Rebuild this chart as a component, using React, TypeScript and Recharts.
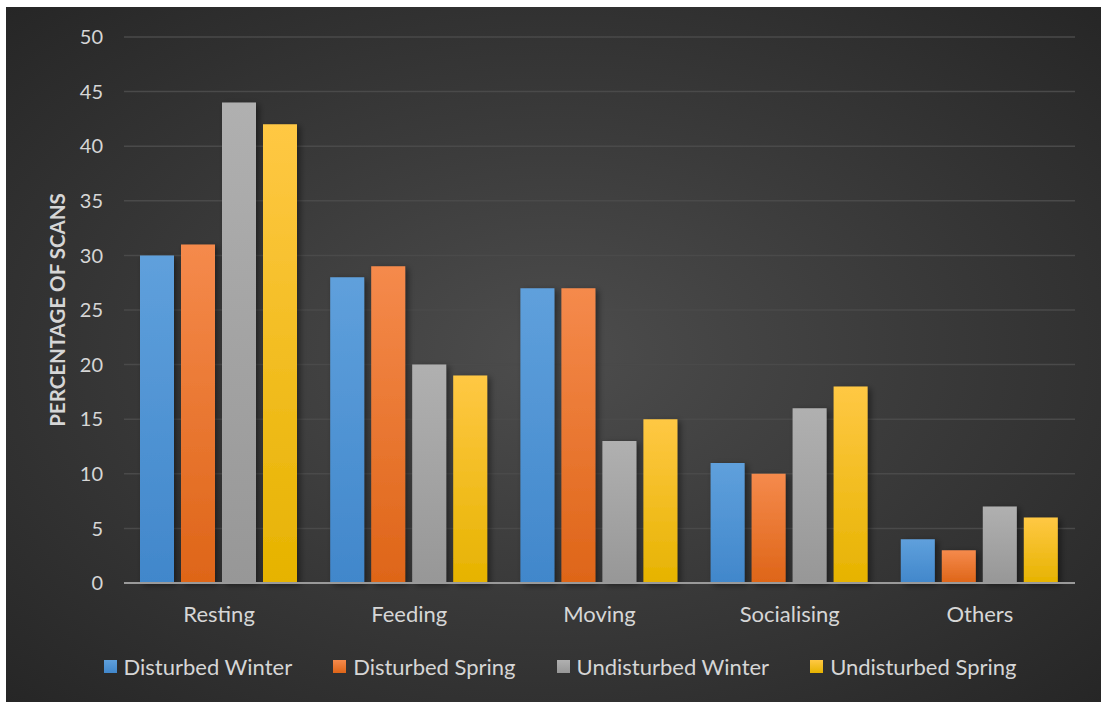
import {
  Bar,
  BarChart,
  CartesianGrid,
  Legend,
  XAxis,
  YAxis,
} from 'recharts'

const categories = ['Resting', 'Feeding', 'Moving', 'Socialising', 'Others']
const disturbedWinter = [30, 28, 27, 11, 4]
const disturbedSpring = [31, 29, 27, 10, 3]
const undisturbedWinter = [44, 20, 13, 16, 7]
const undisturbedSpring = [42, 19, 15, 18, 6]
const yTicks = [0, 5, 10, 15, 20, 25, 30, 35, 40, 45, 50]

const seriesList = [
  { key: 'dw', name: 'Disturbed Winter', top: '#5fa0dc', bottom: '#4187cb' },
  { key: 'ds', name: 'Disturbed Spring', top: '#f58a4c', bottom: '#de6518' },
  { key: 'uw', name: 'Undisturbed Winter', top: '#b0b0b0', bottom: '#979797' },
  { key: 'us', name: 'Undisturbed Spring', top: '#ffc844', bottom: '#e6b300' },
]

const data = categories.map((name, i) => ({
  name,
  dw: disturbedWinter[i],
  ds: disturbedSpring[i],
  uw: undisturbedWinter[i],
  us: undisturbedSpring[i],
}))

const FONT = 'Lato, "Open Sans", sans-serif'
const TEXT = '#d6d6d6'

function LegendRow() {
  return (
    <div
      style={{
        display: 'flex',
        justifyContent: 'center',
        gap: 41,
        paddingLeft: 13,
        fontFamily: FONT,
        fontSize: 22,
        color: TEXT,
      }}
    >
      {seriesList.map((s) => (
        <div key={s.key} style={{ display: 'flex', alignItems: 'center' }}>
          <span
            style={{
              width: 13,
              height: 13,
              marginRight: 7,
              background: `linear-gradient(${s.top}, ${s.bottom})`,
            }}
          />
          <span>{s.name}</span>
        </div>
      ))}
    </div>
  )
}

export default function App() {
  return (
    <div
      style={{
        position: 'absolute',
        left: 6,
        top: 7,
        width: 1095,
        height: 695,
        background:
          'radial-gradient(ellipse at 50% 50%, #4d4d4d 0%, #3b3b3b 45%, #262626 100%)',
      }}
    >
      <BarChart
        width={1095}
        height={695}
        data={data}
        margin={{ top: 30, right: 26, left: 0, bottom: 69 }}
        barCategoryGap={16}
        barGap={7}
      >
        <defs>
          {seriesList.map((s) => (
            <linearGradient key={s.key} id={`grad-${s.key}`} x1="0" y1="0" x2="0" y2="1">
              <stop offset="0%" stopColor={s.top} />
              <stop offset="100%" stopColor={s.bottom} />
            </linearGradient>
          ))}
          <filter id="barShadow" x="-20%" y="-10%" width="160%" height="130%">
            <feDropShadow dx="3" dy="2" stdDeviation="3" floodColor="#000" floodOpacity="0.45" />
          </filter>
        </defs>
        <CartesianGrid vertical={false} stroke="#4a4a4a" strokeWidth={1.5} />
        <XAxis
          dataKey="name"
          height={50}
          axisLine={{ stroke: '#9a9a9a', strokeWidth: 2 }}
          tickLine={false}
          tickSize={0}
          tickMargin={23}
          tick={{ fill: TEXT, fontSize: 22, fontFamily: FONT }}
        />
        <YAxis
          width={118}
          domain={[0, 50]}
          ticks={yTicks}
          interval={0}
          axisLine={false}
          tickLine={false}
          tickSize={0}
          tickMargin={21}
          tick={{ fill: TEXT, fontSize: 20, fontFamily: FONT }}
          label={{
            content: ({ viewBox }: any) => {
              const cx = viewBox.x + 51
              const cy = viewBox.y + viewBox.height / 2
              return (
                <text
                  x={cx}
                  y={cy}
                  transform={`rotate(-90 ${cx} ${cy})`}
                  textAnchor="middle"
                  dominantBaseline="central"
                  fill={TEXT}
                  fontSize={20.5}
                  fontWeight={700}
                  fontFamily={FONT}
                >
                  PERCENTAGE OF SCANS
                </text>
              )
            },
          }}
        />
        <Legend
          verticalAlign="middle"
          align="center"
          wrapperStyle={{ top: 646, left: 0, width: 1095 }}
          content={() => <LegendRow />}
        />
        {seriesList.map((s) => (
          <Bar
            key={s.key}
            dataKey={s.key}
            name={s.name}
            fill={`url(#grad-${s.key})`}
            filter="url(#barShadow)"
            isAnimationActive={false}
          />
        ))}
      </BarChart>
    </div>
  )
}
